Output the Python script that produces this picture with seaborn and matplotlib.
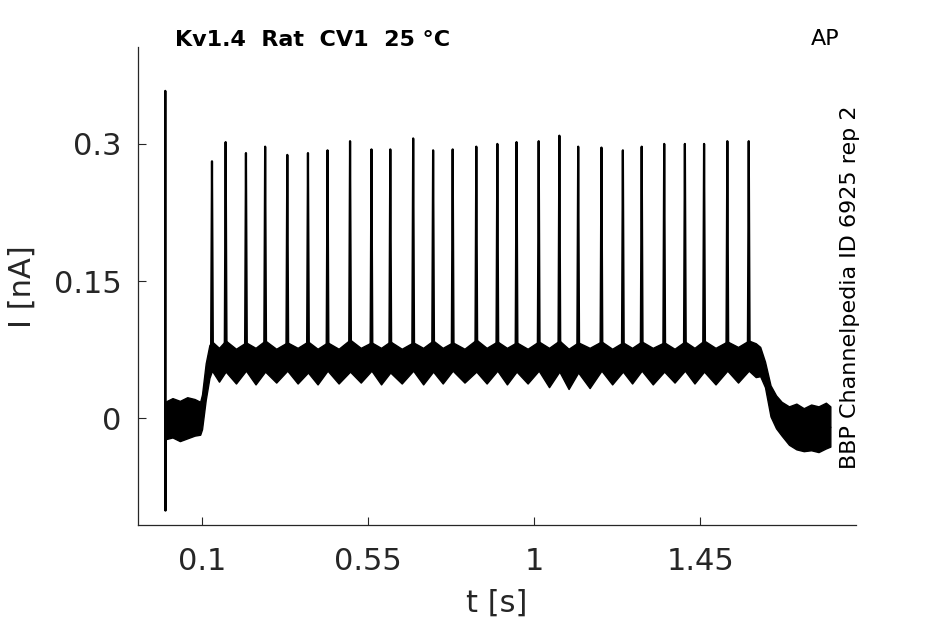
import numpy as np
import pandas as pd
import matplotlib
matplotlib.use("Agg")
import matplotlib.pyplot as plt
import seaborn as sns

# spike peak times [s] and peak currents [nA]
spike_t = [0.127, 0.164, 0.219, 0.271, 0.331, 0.387, 0.440, 0.501, 0.559,
           0.610, 0.672, 0.726, 0.779, 0.843, 0.900, 0.952, 1.012, 1.068,
           1.119, 1.182, 1.240, 1.291, 1.352, 1.408, 1.460, 1.523, 1.581]
spike_i = [0.281, 0.302, 0.290, 0.297, 0.288, 0.290, 0.293, 0.303, 0.294,
           0.294, 0.306, 0.293, 0.294, 0.297, 0.300, 0.302, 0.303, 0.309,
           0.297, 0.296, 0.293, 0.297, 0.300, 0.300, 0.300, 0.303, 0.303]
spike_base = 0.066

# mean level of the trace (holding, step, return)
base_t = [0.002, 0.095, 0.120, 1.610, 1.670, 1.802]
base_i = [0.000, 0.000, 0.062, 0.062, -0.010, -0.010]

# capacitive artifact at the start
artifact_t = [0.0000, 0.0005, 0.0010, 0.0015]
artifact_i = [0.000, 0.358, -0.101, 0.000]

# noise envelope (upper / lower edge of the band)
env_t = [0.000, 0.020, 0.040, 0.060, 0.080, 0.095, 0.100, 0.110, 0.120,
         0.127, 0.146, 0.164, 0.192, 0.219, 0.245, 0.271, 0.301, 0.331,
         0.359, 0.387, 0.413, 0.440, 0.470, 0.501, 0.530, 0.559, 0.585,
         0.610, 0.641, 0.672, 0.699, 0.726, 0.752, 0.779, 0.811, 0.843,
         0.871, 0.900, 0.926, 0.952, 0.982, 1.012, 1.040, 1.068, 1.093,
         1.119, 1.150, 1.182, 1.211, 1.240, 1.265, 1.291, 1.321, 1.352,
         1.380, 1.408, 1.434, 1.460, 1.491, 1.523, 1.552, 1.581,
         1.600, 1.612, 1.625, 1.640, 1.655, 1.670, 1.690, 1.710, 1.730,
         1.750, 1.770, 1.790, 1.802]
env_hi = [0.018, 0.022, 0.019, 0.023, 0.021, 0.018, 0.026, 0.060, 0.080,
          0.084, 0.077, 0.085, 0.076, 0.083, 0.077, 0.085, 0.076, 0.083,
          0.077, 0.084, 0.076, 0.083, 0.076, 0.086, 0.077, 0.083, 0.077,
          0.084, 0.076, 0.083, 0.077, 0.085, 0.077, 0.083, 0.076, 0.086,
          0.077, 0.084, 0.077, 0.083, 0.076, 0.084, 0.077, 0.085, 0.076,
          0.083, 0.077, 0.084, 0.076, 0.083, 0.077, 0.084, 0.077, 0.083,
          0.076, 0.084, 0.077, 0.085, 0.077, 0.084, 0.078, 0.085,
          0.082, 0.078, 0.062, 0.036, 0.025, 0.018, 0.013, 0.016, 0.011,
          0.015, 0.013, 0.017, 0.013]
env_lo = [-0.023, -0.021, -0.025, -0.022, -0.019, -0.018, -0.012, 0.020, 0.044,
          0.052, 0.040, 0.051, 0.038, 0.052, 0.037, 0.051, 0.039, 0.052,
          0.038, 0.050, 0.037, 0.052, 0.038, 0.051, 0.039, 0.052, 0.037,
          0.050, 0.038, 0.052, 0.037, 0.051, 0.038, 0.052, 0.039, 0.051,
          0.038, 0.052, 0.037, 0.051, 0.038, 0.052, 0.034, 0.051, 0.032,
          0.050, 0.033, 0.052, 0.037, 0.051, 0.038, 0.052, 0.037, 0.051,
          0.039, 0.052, 0.038, 0.051, 0.037, 0.052, 0.039, 0.052,
          0.045, 0.046, 0.034, 0.002, -0.011, -0.019, -0.029, -0.034, -0.036,
          -0.035, -0.037, -0.033, -0.031]
assert len(env_t) == len(env_hi) == len(env_lo)

xticks = [0.1, 0.55, 1, 1.45]
xtick_labels = ["0.1", "0.55", "1", "1.45"]
yticks = [0, 0.15, 0.3]
ytick_labels = ["0", "0.15", "0.3"]

# build the trace: artifact, mean level, spikes as narrow triangles
half_w = 0.0025
t_pts = list(artifact_t) + list(base_t)
i_pts = list(artifact_i) + list(base_i)
for ts, pk in zip(spike_t, spike_i):
    t_pts += [ts - half_w, ts, ts + half_w]
    i_pts += [spike_base, pk, spike_base]
trace = pd.DataFrame({"t": t_pts, "i": i_pts}).sort_values("t", kind="stable")

sns.set_theme(style="ticks")
plt.rcParams["font.family"] = ["DejaVu Sans"]

fig = plt.figure(figsize=(9.45, 6.24), dpi=100)
ax = fig.add_axes([0.146, 0.1587, 0.76, 0.766])

ax.fill_between(env_t, env_lo, env_hi, color="black", linewidth=1.0)
sns.lineplot(data=trace, x="t", y="i", sort=False, estimator=None,
             color="black", linewidth=1.6, ax=ax)

ax.set_xlim(-0.0735, 1.872)
ax.set_ylim(-0.1167, 0.406)
ax.set_xticks(xticks)
ax.set_xticklabels(xtick_labels)
ax.set_yticks(yticks)
ax.set_yticklabels(ytick_labels)
ax.tick_params(direction="in", length=6, width=0.8, labelsize=22,
               colors="#262626", pad=12)
ax.tick_params(axis="x", pad=16)
for side in ["top", "right"]:
    ax.spines[side].set_visible(False)
for side in ["left", "bottom"]:
    ax.spines[side].set_color("#262626")
    ax.spines[side].set_linewidth(0.9)

ax.set_xlabel("t [s]", fontsize=22, color="#262626")
ax.set_ylabel("I [nA]", fontsize=22, color="#262626")
ax.xaxis.set_label_coords(0.4996, -0.163)
ax.xaxis.label.set_va("center")
ax.yaxis.set_label_coords(-0.161, 0.498)
ax.yaxis.label.set_va("center")

fig.text(0.185, 0.936, "Kv1.4  Rat  CV1  25 °C", fontsize=16,
         fontweight="bold", color="black", ha="left", va="center")
fig.text(0.858, 0.937, "AP", fontsize=16, color="black",
         ha="left", va="center")
fig.text(0.899, 0.539, "BBP Channelpedia ID 6925 rep 2", fontsize=16,
         color="black", rotation=90, ha="center", va="center")

fig.savefig("out.png", dpi=100)
